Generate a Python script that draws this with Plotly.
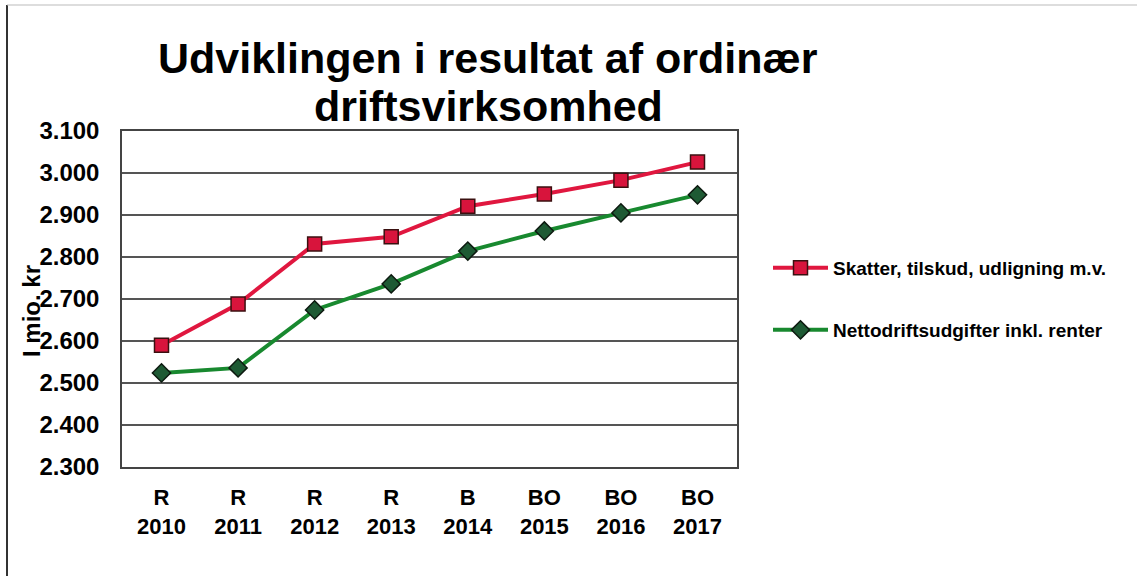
import plotly.graph_objects as go

years = ["2010", "2011", "2012", "2013", "2014", "2015", "2016", "2017"]
prefixes = ["R", "R", "R", "R", "B", "BO", "BO", "BO"]
categories = [f"{p}<br>{y}" for p, y in zip(prefixes, years)]
skatter = [2590, 2688, 2831, 2848, 2921, 2950, 2983, 3026]
netto = [2524, 2536, 2674, 2736, 2814, 2862, 2905, 2948]
yticks = [2300, 2400, 2500, 2600, 2700, 2800, 2900, 3000, 3100]
ytick_text = ["2.300", "2.400", "2.500", "2.600", "2.700", "2.800", "2.900", "3.000", "3.100"]
title_lines = ["Udviklingen i resultat af ordinær", "driftsvirksomhed"]

W, H = 1137, 576
L, R, T, B = 122, 400, 131, 109
pw, ph = W - L - R, H - T - B


def px(xp):
    return (xp - L) / pw


def py(yp):
    return (H - B - yp) / ph


fig = go.Figure()
fig.add_trace(go.Scatter(
    x=categories, y=skatter, mode="lines+markers",
    name="Skatter, tilskud, udligning m.v.",
    line=dict(color="#E0173F", width=4),
    marker=dict(symbol="square", size=14, color="#D8143C", line=dict(color="#3a1010", width=1.5)),
    legend="legend",
))
fig.add_trace(go.Scatter(
    x=categories, y=netto, mode="lines+markers",
    name="Nettodriftsudgifter inkl. renter",
    line=dict(color="#18892F", width=4),
    marker=dict(symbol="diamond", size=14, color="#1E5A34", line=dict(color="#0d1a10", width=1.5)),
    legend="legend2",
))

font = "Arial, Liberation Sans, sans-serif"
fig.update_layout(
    width=W, height=H,
    margin=dict(l=L, r=R, t=T, b=B),
    paper_bgcolor="white", plot_bgcolor="white",
    xaxis=dict(type="category", showgrid=False, showline=True, linecolor="#444", linewidth=1.5,
               mirror=True, ticks="", ticklabelstandoff=10,
               tickfont=dict(family=font, size=22, color="black", weight="bold")),
    yaxis=dict(range=[2300, 3100], tickvals=yticks, ticktext=ytick_text,
               showgrid=True, gridcolor="#555", gridwidth=1.5,
               showline=True, linecolor="#444", linewidth=1.5, mirror=True, ticks="",
               tickfont=dict(family=font, size=24, color="black", weight="bold"),
               ticklabelstandoff=16),
    showlegend=True,
    legend=dict(x=px(768), y=py(268), xanchor="left", yanchor="middle",
                font=dict(family=font, size=19, color="black", weight="bold"), itemwidth=55,
                bgcolor="rgba(0,0,0,0)"),
    legend2=dict(x=px(768), y=py(330), xanchor="left", yanchor="middle",
                 font=dict(family=font, size=19, color="black", weight="bold"), itemwidth=55,
                 bgcolor="rgba(0,0,0,0)"),
    annotations=[
        dict(text=title_lines[0], xref="paper", yref="paper", x=px(488), y=py(58),
             xanchor="center", yanchor="middle", showarrow=False,
             font=dict(family=font, size=43, color="black", weight="bold")),
        dict(text=title_lines[1], xref="paper", yref="paper", x=px(488), y=py(106),
             xanchor="center", yanchor="middle", showarrow=False,
             font=dict(family=font, size=43, color="black", weight="bold")),
        dict(text="I mio. kr", xref="paper", yref="paper", x=px(31), y=py(311),
             xanchor="center", yanchor="middle", textangle=-90, showarrow=False,
             font=dict(family=font, size=24, color="black", weight="bold")),
    ],
    shapes=[
        dict(type="line", xref="paper", yref="paper", x0=px(7), x1=px(7), y0=py(576), y1=py(5),
             line=dict(color="#333", width=2)),
        dict(type="line", xref="paper", yref="paper", x0=px(7), x1=px(1137), y0=py(5), y1=py(5),
             line=dict(color="#bbb", width=1)),
    ],
)

fig.write_html("out.html", config={"displayModeBar": False},
               post_script="document.body.style.margin='0';")
